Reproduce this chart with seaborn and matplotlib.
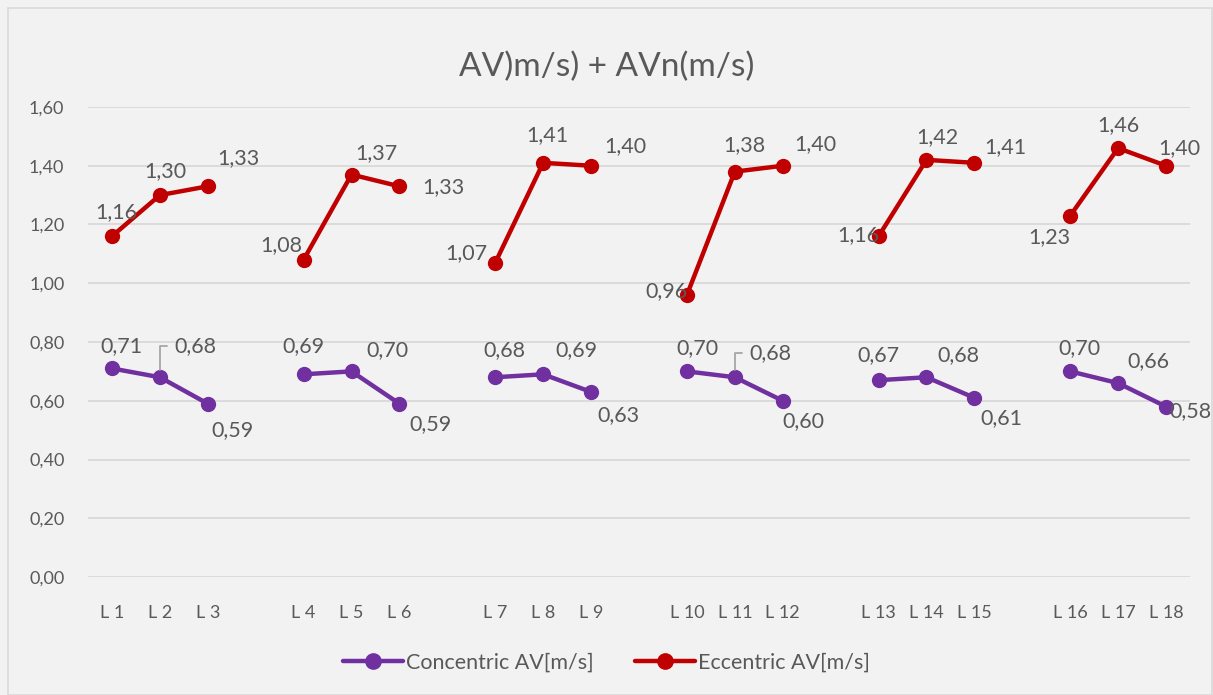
import numpy as np
import pandas as pd
import matplotlib
matplotlib.use("Agg")
import matplotlib.pyplot as plt
from matplotlib.lines import Line2D
import seaborn as sns

labels = ["L 1", "L 2", "L 3", "", "L 4", "L 5", "L 6", "", "L 7", "L 8", "L 9", "",
          "L 10", "L 11", "L 12", "", "L 13", "L 14", "L 15", "", "L 16", "L 17", "L 18"]
concentric = [0.71, 0.68, 0.59, 0.69, 0.70, 0.59, 0.68, 0.69, 0.63,
              0.70, 0.68, 0.60, 0.67, 0.68, 0.61, 0.70, 0.66, 0.58]
eccentric = [1.16, 1.30, 1.33, 1.08, 1.37, 1.33, 1.07, 1.41, 1.40,
             0.96, 1.38, 1.40, 1.16, 1.42, 1.41, 1.23, 1.46, 1.40]
series_names = ["Concentric AV[m/s]", "Eccentric AV[m/s]"]
title = "AV)m/s) + AVn(m/s)"

# label offsets in pixels (dx, dy up)
conc_off = [(9, 22), (36, 31), (25, -26), (0, 28), (36, 21), (31, -20), (9, 27), (33, 24), (27, -23),
            (11, 23), (36, 24), (21, -20), (0, 25), (32, 22), (27, -20), (9, 23), (30, 22), (24, -4)]
ecc_off = [(4, 24), (5, 24), (31, 28), (-22, 15), (25, 21), (44, -1), (-29, 10), (4, 28), (34, 20),
           (-20, 4), (10, 27), (33, 22), (-20, 1), (11, 23), (31, 16), (-21, -21), (0, 23), (13, 18)]
leader = {1, 10}

colors = {series_names[0]: "#7030A0", series_names[1]: "#C00000"}
txt = "#595959"

pos = [i for i, l in enumerate(labels) if l]
rows = []
for k, p in enumerate(pos):
    rows.append({"x": p, "v": concentric[k], "s": series_names[0], "g": k // 3})
    rows.append({"x": p, "v": eccentric[k], "s": series_names[1], "g": k // 3})
df = pd.DataFrame(rows)

sns.set_style("white")
plt.rcParams["font.family"] = ["Lato", "DejaVu Sans"]

fig = plt.figure(figsize=(12.13, 6.95), dpi=100)
fig.patch.set_facecolor("#F2F2F2")
ax = fig.add_axes([88 / 1213, 118 / 695, 1102 / 1213, 470 / 695])
ax.set_facecolor("#F2F2F2")

sns.lineplot(data=df, x="x", y="v", hue="s", units="g", estimator=None, palette=colors,
             marker="o", markersize=11, markeredgewidth=0, linewidth=3.2, legend=False, ax=ax)

ax.set_xlim(-0.5, len(labels) - 0.5)
ax.set_ylim(0, 1.6)
yt = np.arange(0, 1.61, 0.2)
ax.set_yticks(yt)
ax.set_yticklabels([f"{v:.2f}".replace(".", ",") for v in yt], color=txt, fontsize=13)
ax.set_xticks(range(len(labels)))
ax.set_xticklabels(labels, color=txt, fontsize=13)
ax.tick_params(axis="both", length=0)
ax.tick_params(axis="y", pad=17)
ax.tick_params(axis="x", pad=20)
ax.yaxis.grid(True, color="#D9D9D9", linewidth=1.3)
ax.set_axisbelow(True)
for sp in ax.spines.values():
    sp.set_visible(False)
ax.set_xlabel("")
ax.set_ylabel("")

for vals, offs in ((concentric, conc_off), (eccentric, ecc_off)):
    for k, p in enumerate(pos):
        lab = f"{vals[k]:.2f}".replace(".", ",")
        dx, dy = offs[k]
        if vals is concentric and k in leader:
            ax.annotate(lab, (p, vals[k]), xytext=(dx, dy), textcoords="offset pixels",
                        ha="center", va="center", fontsize=15.5, color=txt,
                        arrowprops=dict(arrowstyle="-", color="#A6A6A6", lw=1.3,
                                        shrinkA=3, shrinkB=5, relpos=(0, 0.5),
                                        connectionstyle="angle,angleA=0,angleB=90,rad=0"))
        else:
            ax.annotate(lab, (p, vals[k]), xytext=(dx, dy), textcoords="offset pixels",
                        ha="center", va="center", fontsize=15.5, color=txt)

fig.suptitle(title, y=0.925, fontsize=24, color=txt)

handles = [Line2D([], [], color=colors[n], lw=3.2, marker="o", markersize=11) for n in series_names]
fig.legend(handles, series_names, loc="center", bbox_to_anchor=(0.5, 1 - 663 / 695), ncol=2,
           frameon=False, fontsize=15.5, labelcolor=txt, handlelength=2.8, handletextpad=0.15,
           columnspacing=1.9)

fig.add_artist(plt.Rectangle((8 / 1213, 0), 1 - 8 / 1213 - 0.001, 1 - 8 / 695, transform=fig.transFigure,
                             fill=False, edgecolor="#D9D9D9", lw=1.2))

fig.savefig("out.png", dpi=100, facecolor=fig.get_facecolor())
